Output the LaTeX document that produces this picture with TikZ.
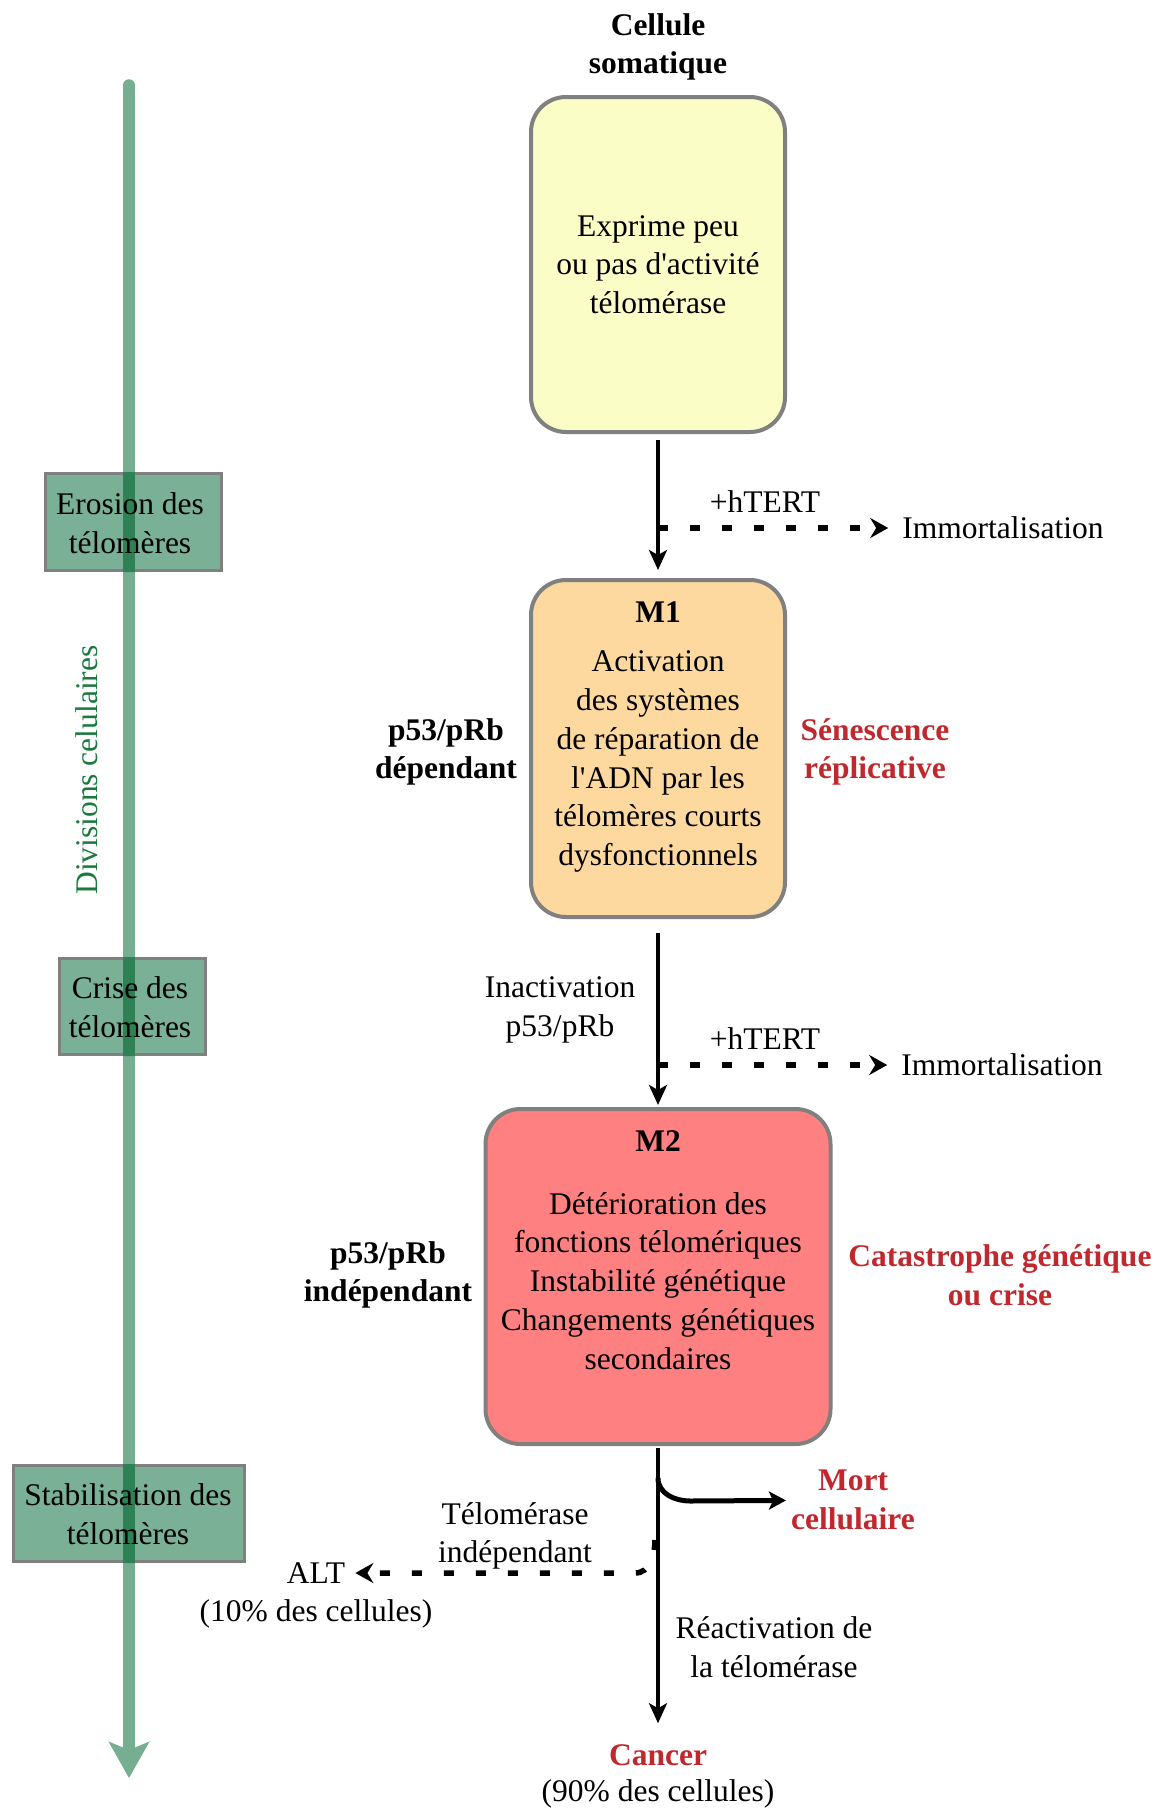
\documentclass[tikz,border=0pt]{standalone}
\usepackage{fontspec}
\setmainfont{Liberation Serif}
\usetikzlibrary{arrows.meta}
\definecolor{yfill}{HTML}{FBFDC6}
\definecolor{ofill}{HTML}{FDD9A0}
\definecolor{rfill}{HTML}{FF8080}
\definecolor{bordergray}{HTML}{808080}
\definecolor{redtxt}{HTML}{C0282D}
\definecolor{gline}{HTML}{76AE91}
\definecolor{gdark}{HTML}{2E8055}
\definecolor{gbox}{HTML}{7AB095}
\definecolor{gtxt}{HTML}{1A7A3E}
\tikzset{
  every node/.style={font=\fontsize{31.5}{38.7}\selectfont, inner sep=0pt, align=center},
  cellbox/.style={draw=bordergray, line width=4pt, rounded corners=35pt},
  stagebox/.style={draw=bordergray, line width=3pt, fill=gbox},
  solidarr/.style={line width=3.5pt, -{Stealth[length=20pt,width=18pt,inset=5pt]}},
  dasharr/.style={line width=5.5pt, dash pattern=on 10pt off 22pt, -{Stealth[length=18pt,width=20pt,inset=6pt]}},
  redlbl/.style={text=redtxt, font=\fontsize{31.5}{38.7}\selectfont\bfseries},
  boldlbl/.style={font=\fontsize{31.5}{38.7}\selectfont\bfseries},
}
\begin{document}
\begin{tikzpicture}[x=1pt,y=-1pt]
\path[use as bounding box] (0,0) rectangle (1165,1810);

% stage boxes (left)
\node[stagebox, minimum width=176pt, minimum height=97pt] (ero) at (133.5,522) {};
\node[stagebox, minimum width=146pt, minimum height=96pt] (crise) at (132.5,1006.5) {};
\node[stagebox, minimum width=231pt, minimum height=96pt] (stab) at (129,1513.5) {};

% timeline
\coordinate (gtop) at (129,85);
\coordinate (gbot) at (129,1778);
\draw[gline, line width=11.5pt, line cap=round, -{Stealth[length=36pt,width=40pt,inset=8pt]}] (gtop) -- (gbot);
\begin{scope}
\clip (ero.south west) rectangle (ero.north east)
      (crise.south west) rectangle (crise.north east)
      (stab.south west) rectangle (stab.north east);
\draw[gdark, line width=11.5pt] (gtop) -- (gbot);
\end{scope}
\node (erot) at (130,523) {Erosion des\\télomères};
\node (criset) at (130,1007.5) {Crise des\\télomères};
\node (stabt) at (128,1514.5) {Stabilisation des\\télomères};
\node[text=gtxt, rotate=90] (div) at (87,770) {Divisions celulaires};

% main column
\node[boldlbl] (cs) at (658,47) {Cellule\\somatique};
\node[cellbox, fill=yfill, minimum width=254pt, minimum height=335pt] (y1) at (658,264.5) {Exprime peu\\ou pas d\textquotesingle activité\\télomérase};

\node[cellbox, fill=ofill, minimum width=254pt, minimum height=337pt] (m1) at (658,748.5) {};
\node (m1t) at (658,737) {\textbf{M1}\\[10.6pt]Activation\\des systèmes\\de réparation de\\l\textquotesingle ADN par les\\télomères courts\\dysfonctionnels};

\node[cellbox, fill=rfill, minimum width=345pt, minimum height=335pt] (m2) at (658,1276.5) {};
\node (m2t) at (658,1250) {\textbf{M2}\\[24pt]Détérioration des\\fonctions télomériques\\Instabilité génétique\\Changements génétiques\\secondaires};

\node[boldlbl] (dep) at (446,752) {p53/pRb\\dépendant};
\node[redlbl] (sen) at (875,752) {Sénescence\\réplicative};
\node[boldlbl] (indep) at (388,1275) {p53/pRb\\indépendant};
\node[redlbl] (cat) at (1000,1275) {Catastrophe génétique\\ou crise};

% arrows between boxes
\draw[solidarr, shorten <=6pt, shorten >=8pt] (y1) -- (m1);
\draw[solidarr, shorten <=14pt, shorten >=2pt] (m1) -- (m2);

% +hTERT branches
\node (ht1) at (765,502) {+hTERT};
\node (imm1) at (1003,528) {Immortalisation};
\coordinate (h1) at (658,528);
\draw[dasharr, shorten >=14pt] (h1) -- (imm1);

\node (inact) at (560,1010) {Inactivation\\p53/pRb};
\node (ht2) at (765,1039) {+hTERT};
\node (imm2) at (1002,1065) {Immortalisation};
\coordinate (h2) at (658,1065);
\draw[dasharr, shorten >=14pt] (h2) -- (imm2);

% bottom part
\node[redlbl] (cancer) at (658,1755) {Cancer};
\node (pct90) at (658,1794) {(90\% des cellules)};
\draw[solidarr, shorten <=2pt, shorten >=21pt] (m2) -- (cancer);

\node[redlbl] (mort) at (853,1500) {Mort\\cellulaire};
\coordinate (mb) at (658,1478);
\coordinate (mc) at (690,1501);
\draw[line width=5pt, -{Stealth[length=17pt,width=18pt,inset=4pt]}, shorten >=5pt] (mb) to[out=-90,in=180] (mc) -- (mort);

\node (alt) at (316,1573) {ALT};
\node (pct10) at (316,1614) {(10\% des cellules)};
\coordinate (ab) at (655,1540);
\coordinate (ac) at (635,1573);
\draw[dasharr, shorten >=10pt] (ab) to[out=-90,in=0] (ac) -- (alt);

\node (telind) at (515,1536) {Télomérase\\indépendant};
\node (react) at (774,1647) {Réactivation de\\la télomérase};
\end{tikzpicture}
\end{document}
